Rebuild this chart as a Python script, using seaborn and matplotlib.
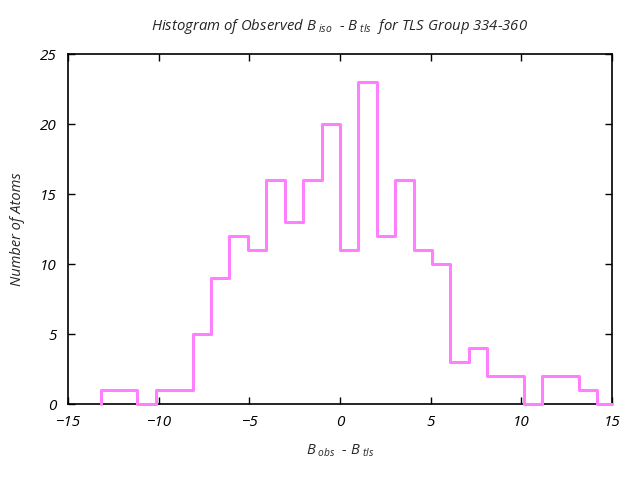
import numpy as np
import pandas as pd
import matplotlib
matplotlib.use("Agg")
import matplotlib.pyplot as plt
import seaborn as sns

# Bin edges and counts per bin
bin_edges = [-13.2, -13.2, -12.19, -11.17, -10.16, -9.14, -8.13, -7.11, -6.10,
             -5.08, -4.07, -3.05, -2.04, -1.02, 0.0, 1.01, 2.03, 3.04, 4.06,
             5.07, 6.09, 7.10, 8.12, 9.13, 10.15, 11.16, 12.18, 13.19, 14.2, 15.0]
counts = [0, 1, 1, 0, 1, 1, 5, 9, 12, 11, 16, 13, 16, 20, 11, 23, 12, 16, 11,
          10, 3, 4, 2, 2, 0, 2, 2, 1, 0]

x_ticks = [-15, -10, -5, 0, 5, 10, 15]
y_ticks = [0, 5, 10, 15, 20, 25]

centers = [(bin_edges[i] + bin_edges[i + 1]) / 2 for i in range(len(counts))]
df = pd.DataFrame({"x": centers, "w": counts})

sns.set_style("ticks")
plt.rcParams["font.family"] = ["Open Sans", "DejaVu Sans"]
plt.rcParams["font.style"] = "italic"
plt.rcParams["mathtext.fontset"] = "custom"
plt.rcParams["mathtext.rm"] = "Open Sans:italic"
plt.rcParams["mathtext.it"] = "Open Sans:italic"
plt.rcParams["mathtext.default"] = "it"

fig = plt.figure(figsize=(6.4, 4.8), dpi=100)
ax = fig.add_axes([68 / 640, 1 - 404 / 480, (612 - 68) / 640, (404 - 54) / 480])

sns.histplot(data=df, x="x", weights="w", bins=bin_edges, element="step",
             fill=False, color="#ff80ff", linewidth=2.2, ax=ax)
for ln in ax.lines:
    ln.set_zorder(5)
    ln.set_clip_on(False)

ax.set_xlim(-15, 15)
ax.set_ylim(0, 25)
ax.set_xticks(x_ticks)
ax.set_yticks(y_ticks)
ax.set_xticklabels([f"{t}".replace("-", "\u2212") for t in x_ticks])
ax.tick_params(direction="in", length=5, width=1, top=True, right=True,
               labelsize=11, colors="black", pad=8)
for s in ax.spines.values():
    s.set_linewidth(1.2)
    s.set_color("black")

ax.set_xlabel(r"B$_{\ obs}$  - B$_{\ tls}$", fontsize=10.5, style="italic", labelpad=9)
ax.set_ylabel("Number of Atoms", fontsize=10.5, style="italic", labelpad=11)
ax.set_title(r"Histogram of Observed B$_{\ iso}$  - B$_{\ tls}$  for TLS Group 334-360",
             fontsize=10.7, style="italic", pad=17)

fig.savefig("out.png", dpi=100)
